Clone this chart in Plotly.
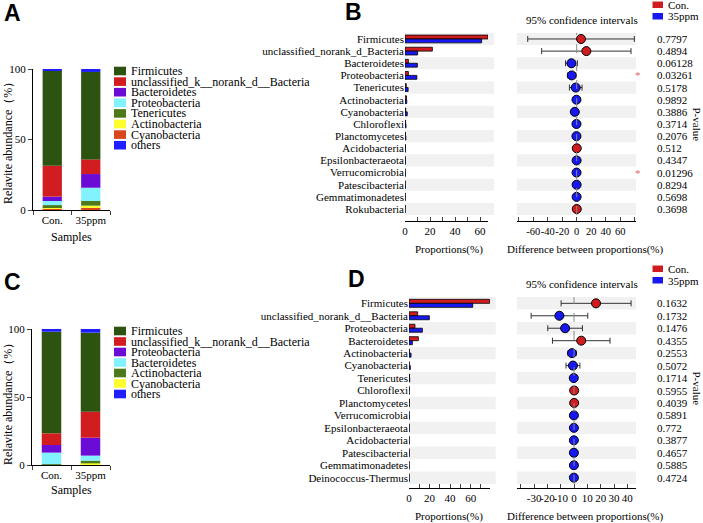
import numpy as np
import plotly.graph_objects as go

W, H = 703, 523
SERIF = "Times New Roman, Liberation Serif, serif"
SANS = "Arial, Liberation Sans, sans-serif"

# ---- panels A / C : community composition, stacked bottom -> top ----
samples = ["Con.", "35ppm"]

a_phyla = ["Cyanobacteria", "Actinobacteria", "Tenericutes", "Proteobacteria",
           "Bacteroidetes", "unclassified_k__norank_d__Bacteria", "Firmicutes", "others"]
a_con = [1.2, 0.9, 1.4, 2.9, 3.1, 21.9, 67.2, 1.4]
a_35ppm = [1.7, 1.4, 3.3, 9.4, 9.7, 10.4, 62.0, 2.1]
a_colors = ["#D8461E", "#FFFF2E", "#4C7A1A", "#82F2FF", "#6A0CD6", "#D11C20", "#2C5410", "#1E1EFF"]

c_phyla = ["Cyanobacteria", "Actinobacteria", "Bacteroidetes", "Proteobacteria",
           "unclassified_k__norank_d__Bacteria", "Firmicutes", "others"]
c_con = [0.2, 0.4, 8.5, 5.6, 8.6, 74.7, 2.0]
c_35ppm = [1.2, 2.0, 3.7, 13.2, 19.1, 58.1, 2.7]
c_colors = ["#FFFF2E", "#4C7A1A", "#82F2FF", "#6A0CD6", "#D11C20", "#2C5410", "#1E1EFF"]

# ---- panel B : extended error bar ----
b_taxa = ["Firmicutes", "unclassified_norank_d_Bacteria", "Bacteroidetes", "Proteobacteria",
          "Tenericutes", "Actinobacteria", "Cyanobacteria", "Chloroflexi", "Planctomycetes",
          "Acidobacteria", "Epsilonbacteraeota", "Verrucomicrobia", "Patescibacteria",
          "Gemmatimonadetes", "Rokubacteria"]
b_con = [66.4, 21.9, 2.7, 2.7, 1.0, 1.2, 0.6, 0.5, 0.4, 0.4, 0.3, 0.1, 0.2, 0.2, 0.2]
b_35ppm = [61.3, 10.1, 9.9, 9.5, 2.5, 1.4, 1.8, 0.8, 0.7, 0.3, 0.3, 0.3, 0.3, 0.2, 0.1]
b_diff = [6.0, 13.3, -7.2, -6.8, -1.3, -0.3, -2.6, -0.3, -0.3, 0.1, -0.1, -0.2, -0.1, -0.1, 0.1]
b_low = [-67.5, -48.3, -15.4, -12.4, -10.0, -1.6, -6.5, -0.9, -1.2, -0.6, -0.8, -0.35, -0.7, -0.6, -0.5]
b_high = [79.5, 74.9, 1.0, -1.2, 7.4, 1.0, 1.3, 0.3, 0.6, 0.8, 0.6, -0.05, 0.5, 0.4, 0.7]
b_p = [0.7797, 0.4894, 0.06128, 0.03261, 0.5178, 0.9892, 0.3886, 0.3714, 0.2076,
       0.512, 0.4347, 0.01296, 0.8294, 0.5698, 0.3698]

# ---- panel D ----
d_taxa = ["Firmicutes", "unclassified_norank_d__Bacteria", "Proteobacteria", "Bacteroidetes",
          "Actinobacteria", "Cyanobacteria", "Tenericutes", "Chloroflexi", "Planctomycetes",
          "Verrucomicrobia", "Epsilonbacteraeota", "Acidobacteria", "Patescibacteria",
          "Gemmatimonadetes", "Deinococcus-Thermus"]
d_con = [78.5, 8.4, 5.8, 9.1, 0.4, 0.2, 0.5, 0.3, 0.3, 0.2, 0.2, 0.2, 0.2, 0.1, 0.1]
d_35ppm = [62.0, 19.8, 13.0, 3.3, 2.0, 1.3, 0.7, 0.2, 0.2, 0.3, 0.2, 0.2, 0.2, 0.2, 0.2]
d_diff = [16.5, -11.0, -6.7, 5.4, -1.5, -0.8, -0.2, 0.1, 0.1, -0.1, -0.1, -0.1, -0.1, -0.1, -0.1]
d_low = [-9.7, -32.2, -19.7, -16.2, -4.5, -6.0, -1.0, -0.9, -0.7, -0.6, -0.5, -0.6, -0.6, -0.6, -0.6]
d_high = [42.8, 10.3, 6.3, 27.0, 1.5, 4.4, 0.6, 1.1, 0.9, 0.4, 0.3, 0.4, 0.4, 0.4, 0.4]
d_p = [0.1632, 0.1732, 0.1476, 0.4355, 0.2553, 0.5072, 0.1714, 0.5955, 0.4039, 0.5891,
       0.772, 0.3877, 0.4657, 0.5885, 0.4724]

RED, BLUE = "#D01C1F", "#1818F2"
BAND = "#F1F1F1"


def px(x):
    return x / W


def py(y):
    return 1 - y / H


fig = go.Figure()


def note(text, x, y, size=11, family=SERIF, color="black", xanchor="center", **kw):
    fig.add_annotation(text=text, x=px(x), y=py(y), xref="paper", yref="paper", showarrow=False,
                       xanchor=xanchor, yanchor="middle", borderpad=0,
                       font=dict(family=family, size=size, color=color), **kw)


def add_stack(phyla, con, ppm, colors, xa, ya):
    vals = np.array([con, ppm])
    base = np.cumsum(vals, axis=1) - vals
    for i, name in enumerate(phyla):
        fig.add_trace(go.Bar(x=samples, y=vals[:, i], base=base[:, i], width=0.5, name=name,
                             marker=dict(color=colors[i], line=dict(width=0)),
                             xaxis=xa, yaxis=ya))


def side_legend(phyla, colors, y0, step):
    # legend lists the stack top-down, with "others" kept last
    order = list(range(len(phyla) - 2, -1, -1)) + [len(phyla) - 1]
    for k, i in enumerate(order):
        yc = y0 + k * step
        fig.add_shape(type="rect", xref="paper", yref="paper", x0=px(114), x1=px(126),
                      y0=py(yc - 4.3), y1=py(yc + 4.3), fillcolor=colors[i], line_width=0)
        note(phyla[i], 130, yc, size=12, xanchor="left")


def add_bars(taxa, con, ppm, xa, ya):
    for vals, col, off in [(con, RED, -0.32), (ppm, BLUE, 0.0)]:
        fig.add_trace(go.Bar(y=taxa, x=vals, orientation="h", width=0.32, offset=off,
                             marker=dict(color=col, line=dict(color="black", width=0.8)),
                             xaxis=xa, yaxis=ya))


def add_ci(taxa, diff, low, high, xa, ya):
    diff, low, high = np.array(diff), np.array(low), np.array(high)
    cols = [RED if d > 0 else BLUE for d in diff]
    fig.add_trace(go.Scatter(x=diff, y=taxa, mode="markers",
                             marker=dict(size=9, color=cols, line=dict(color="black", width=1)),
                             error_x=dict(type="data", symmetric=False, array=high - diff,
                                          arrayminus=diff - low, color="#333333",
                                          thickness=1, width=3),
                             xaxis=xa, yaxis=ya))


def bands(n, xa, ya, x1=1.0):
    for i in range(0, n, 2):
        fig.add_shape(type="rect", xref=xa + " domain", yref=ya, x0=0, x1=x1,
                      y0=i - 0.5, y1=i + 0.5, fillcolor=BAND, line_width=0, layer="below")


add_stack(a_phyla, a_con, a_35ppm, a_colors, "x", "y")
add_bars(b_taxa, b_con, b_35ppm, "x2", "y2")
add_ci(b_taxa, b_diff, b_low, b_high, "x3", "y3")
add_stack(c_phyla, c_con, c_35ppm, c_colors, "x4", "y4")
add_bars(d_taxa, d_con, d_35ppm, "x5", "y5")
add_ci(d_taxa, d_diff, d_low, d_high, "x6", "y6")

bands(len(b_taxa), "x2", "y2", x1=89 / 83)
bands(len(b_taxa), "x3", "y3")
bands(len(d_taxa), "x5", "y5", x1=86.7 / 81)
bands(len(d_taxa), "x6", "y6")

for xa, ya in [("x3", "y3"), ("x6", "y6")]:
    fig.add_shape(type="line", xref=xa, yref=ya + " domain", x0=0, x1=0, y0=0, y1=1,
                  line=dict(color="#8A8A8A", width=1, dash="dash"))

side_legend(a_phyla, a_colors, 71, 10.6)
side_legend(c_phyla, c_colors, 331, 10.5)

tick_font = dict(family=SERIF, size=11, color="black")
stack_x = dict(type="category", ticks="outside", tickson="boundaries", ticklen=4,
               showline=True, linecolor="black", linewidth=1, tickfont=tick_font,
               showgrid=False, range=[-0.5, 1.5], tickangle=0, automargin=False)
stack_y = dict(range=[0, 100], tickvals=[0, 50, 100], ticks="outside", ticklen=4,
               showline=True, linecolor="black", linewidth=1, tickfont=tick_font,
               showgrid=False, zeroline=False, automargin=False)
bar_y = dict(type="category", showline=False, ticks="", tickfont=tick_font,
             showgrid=False, range=[14.5, -0.5], automargin=False)
ci_y = dict(type="category", showticklabels=False, ticks="", showline=False,
            showgrid=False, range=[14.5, -0.5], automargin=False)
free_x = dict(anchor="free", ticks="inside", ticklen=4, showline=True, linecolor="black",
              linewidth=1, tickfont=tick_font, showgrid=False, zeroline=False,
              tickangle=0, automargin=False)

fig.update_layout(
    width=W, height=H, margin=dict(l=0, r=0, t=0, b=0, autoexpand=False), autosize=False,
    paper_bgcolor="white", plot_bgcolor="rgba(0,0,0,0)",
    barmode="overlay", showlegend=False,
    xaxis=dict(stack_x, domain=[px(33), px(110)], anchor="y"),
    yaxis=dict(stack_y, domain=[py(210), py(69)], anchor="x"),
    xaxis4=dict(stack_x, domain=[px(32), px(110)], anchor="y4"),
    yaxis4=dict(stack_y, domain=[py(465), py(329)], anchor="x4"),
    xaxis2=dict(free_x, domain=[px(405), px(488)], range=[0, 66.4], position=py(221),
                tickvals=[0, 10, 20, 30, 40, 50, 60, 66.4],
                ticktext=["0", "", "20", "", "40", "", "60", ""]),
    yaxis2=dict(bar_y, domain=[py(215.1), py(32.9)], anchor="x2",
                tickmode="array", tickvals=b_taxa),
    xaxis3=dict(free_x, domain=[px(517), px(636)], range=[-82.3, 81.8], position=py(221),
                tickvals=[-80, -60, -40, -20, 0, 20, 40, 60, 80],
                ticktext=["", "-60", "-40", "-20", "0", "20", "40", "60", ""],
                tickfont=dict(tick_font, size=10.5)),
    yaxis3=dict(ci_y, domain=[py(215.1), py(32.9)], anchor="x3"),
    xaxis5=dict(free_x, domain=[px(409), px(490)], range=[0, 78.8], position=py(488),
                tickvals=[0, 10, 20, 30, 40, 50, 60, 70, 78.8],
                ticktext=["0", "", "20", "", "40", "", "60", "", ""]),
    yaxis5=dict(bar_y, domain=[py(483.9), py(297.1)], anchor="x5",
                tickmode="array", tickvals=d_taxa),
    xaxis6=dict(free_x, domain=[px(517), px(636)], range=[-42.8, 46.5], position=py(488),
                tickvals=[-40, -30, -20, -10, 0, 10, 20, 30, 40],
                ticktext=["", "-30", "-20", "-10", "0", "10", "20", "30", "40"]),
    yaxis6=dict(ci_y, domain=[py(483.9), py(297.1)], anchor="x6"),
)

# panel letters
for letter, x, y in [("A", 12.5, 13.5), ("B", 353, 12), ("C", 12.5, 282), ("D", 356, 279)]:
    note("<b>%s</b>" % letter, x, y, size=23, family=SANS)

# stacked panel titles
for yc, ys in [(140, 237.5), (401, 490)]:
    note("Relavite abundance（%）", 8, yc, size=12, textangle=-90)
    note("Samples", 71, ys, size=12)

# comparison panel texts
for top, axis_y, ya, taxa, pvals in [(0, 221, "y3", b_taxa, b_p), (264, 488, "y6", d_taxa, d_p)]:
    fig.add_shape(type="rect", xref="paper", yref="paper", x0=px(652.5), x1=px(663),
                  y0=py(top + 1.5), y1=py(top + 8), fillcolor=RED, line_width=0)
    fig.add_shape(type="rect", xref="paper", yref="paper", x0=px(652.5), x1=px(663),
                  y0=py(top + 13), y1=py(top + 19.5), fillcolor=BLUE, line_width=0)
    note("Con.", 667, top + 4.5, xanchor="left")
    note("35ppm", 667, top + 16.5, xanchor="left")
    note("95% confidence intervals", 582, top + 19.5)
    note("P-value", 697, top + 124.5, textangle=90)
    note("Proportions(%)", 449, axis_y + 28)
    note("Difference between proportions(%)", 585, axis_y + 28)
    for name, p in zip(taxa, pvals):
        fig.add_annotation(text=str(p), x=px(655), xref="paper", y=name, yref=ya,
                           xanchor="left", yanchor="middle", showarrow=False, font=tick_font)
        if p < 0.05:
            fig.add_annotation(text="*", x=px(638), xref="paper", y=name, yref=ya,
                               xanchor="center", yanchor="middle", showarrow=False,
                               font=dict(family=SERIF, size=11, color="#E06666"))

fig.write_html("out.html", config={"displayModeBar": False},
               post_script="document.body.style.margin='0';")
